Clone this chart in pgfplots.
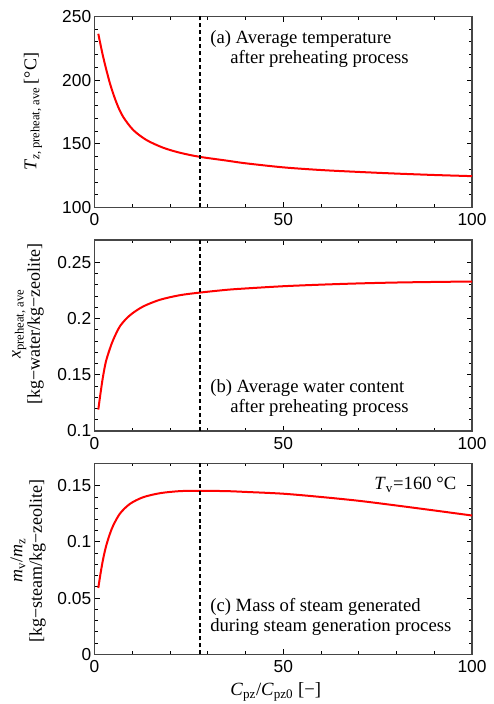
\documentclass[border=0pt]{standalone}
\usepackage{fontspec}
\setmainfont{Liberation Serif}
\newfontfamily\arialf{Liberation Sans}
\usepackage{pgfplots}
\pgfplotsset{compat=1.18}

\definecolor{axgray}{RGB}{70,70,70}

\pgfplotsset{
  panel/.style={
    scale only axis,
    width=283.1pt, height=143.25pt,
    xmin=0, xmax=100,
    xtick={0,50,100},
    xticklabels={0,50,100},
    minor x tick num=4,
    minor y tick num=4,
    tick align=inside,
    major tick length=3.8pt,
    minor tick length=2.3pt,
    axis line style={axgray, line width=1.1pt},
    every tick/.style={black, line width=0.7pt},
    tick label style={font=\arialf\fontsize{13}{15}\selectfont},
    xticklabel style={yshift=-1pt},
    yticklabel style={xshift=1pt},
    clip=false,
  },
  ylab/.style 2 args={every axis y label/.style={at={(axis description cs:#1,#2)}, rotate=90, anchor=center,
    font=\fontsize{13.5}{14.5}\selectfont, align=center}},
  curve/.style={red, line width=1.5pt, smooth, tension=0.5},
}

\begin{document}
\begin{tikzpicture}
\path[use as bounding box] (-70.9pt,-37.3pt) rectangle (298.9pt,490.7pt);

% (a) temperature
\begin{axis}[panel, at={(0,335.1pt)},
  ymin=100, ymax=250,
  ytick={100,150,200,250}, yticklabels={100,150,200,250},
  ylab={-0.163}{0.5},
  ylabel={\textit{T}\textsubscript{\textit{z}, preheat, ave}\,[°C]},
]
\addplot[curve] coordinates {
(1,236.4)(2.3,218.1)(4.1,197.3)(5.9,181.6)(7.6,171.1)(10.3,160.7)(13.8,152.9)(18.2,146.9)(22.6,143.0)(27.8,139.8)(35,136.8)(40,134.7)(50,131.5)(60,129.4)(70,127.9)(80,126.6)(90,125.5)(100,124.6)
};
\draw[black, line width=1.3pt, dash pattern=on 3pt off 2.2pt] (axis cs:28,100) -- (axis cs:28,250);
\node[anchor=base west, font=\fontsize{14}{15}\selectfont, inner sep=0pt] at (axis cs:30.6,228.9) {(a) Average temperature};
\node[anchor=base west, font=\fontsize{14}{15}\selectfont, inner sep=0pt] at (axis cs:35.9,213.2) {after preheating process};
\end{axis}

% (b) water content
\begin{axis}[panel, at={(0,167.5pt)},
  ymin=0.1, ymax=0.27,
  ytick={0.1,0.15,0.2,0.25}, yticklabels={0.1,0.15,0.2,0.25},
  ylab={-0.176}{0.56},
  ylabel={\textit{x}\textsubscript{preheat, ave}\\{}[kg−water/kg−zeolite]},
]
\addplot[curve] coordinates {
(1,0.119)(1.5,0.1315)(2.2,0.1475)(3,0.1615)(4,0.1725)(5,0.1815)(6.8,0.1935)(9.4,0.2030)(12.9,0.2108)(17.4,0.2168)(22.6,0.2208)(27.8,0.2231)(35,0.2256)(40,0.2268)(50,0.2288)(60,0.2302)(70,0.2313)(80,0.2321)(90,0.2326)(100,0.2330)
};
\draw[black, line width=1.3pt, dash pattern=on 3pt off 2.2pt] (axis cs:28,0.1) -- (axis cs:28,0.27);
\node[anchor=base west, font=\fontsize{14}{15}\selectfont, inner sep=0pt] at (axis cs:30.6,0.1346) {(b) Average water content};
\node[anchor=base west, font=\fontsize{14}{15}\selectfont, inner sep=0pt] at (axis cs:35.9,0.1164) {after preheating process};
\end{axis}

% (c) steam
\begin{axis}[panel, at={(0,0)},
  ymin=0, ymax=0.17,
  ytick={0,0.05,0.1,0.15}, yticklabels={0,0.05,0.1,0.15},
  ylab={-0.176}{0.49},
  ylabel={\textit{m}\textsubscript{v}/\textit{m}\textsubscript{z}\\{}[kg−steam/kg−zeolite]},
]
\addplot[curve] coordinates {
(1,0.059)(1.5,0.0700)(2.2,0.0835)(3,0.0955)(4,0.1065)(5,0.1150)(6.8,0.1255)(9.4,0.1339)(12.9,0.1398)(17.4,0.1434)(22.6,0.1452)(27.8,0.1455)(35,0.1452)(40,0.1445)(50,0.1429)(60,0.1400)(70,0.1366)(80,0.1324)(90,0.1280)(100,0.1235)
};
\draw[black, line width=1.3pt, dash pattern=on 3pt off 2.2pt] (axis cs:28,0) -- (axis cs:28,0.17);
\node[anchor=base west, font=\fontsize{14}{15}\selectfont, inner sep=0pt] at (axis cs:30.6,0.0380) {(c) Mass of steam generated};
\node[anchor=base west, font=\fontsize{14}{15}\selectfont, inner sep=0pt] at (axis cs:30.6,0.0202) {during steam generation process};
\node[anchor=base east, font=\fontsize{14}{15}\selectfont, inner sep=0pt] at (axis cs:95.9,0.1467) {\textit{T}\textsubscript{v}=160 °C};
\node[anchor=base, font=\fontsize{14}{15}\selectfont, inner sep=0pt] at (axis description cs:0.48,-0.214) {\textit{C}\textsubscript{pz}/\textit{C}\textsubscript{pz0} [−]};
\end{axis}
\end{tikzpicture}
\end{document}
